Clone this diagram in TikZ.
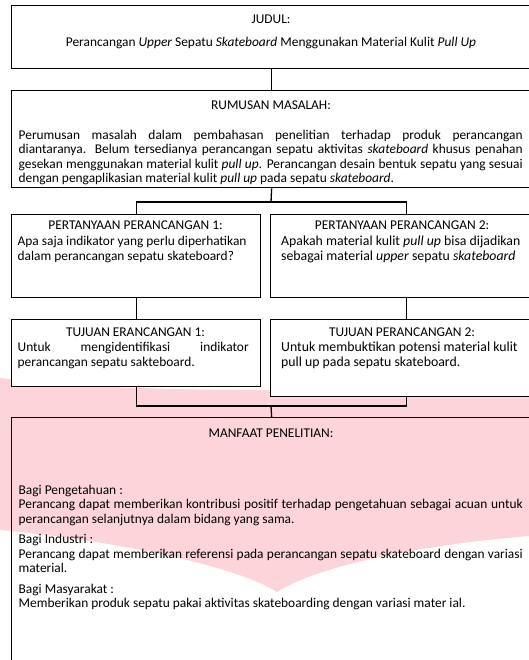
\documentclass[tikz,border=0pt]{standalone}
\usepackage{fontspec}
\setmainfont{Carlito}
\definecolor{pinkwm}{RGB}{252,212,217}

\begin{document}
\begin{tikzpicture}[x=1pt,y=-1pt,
  kotak/.style={draw, line width=1.3pt, fill=white, anchor=north west, inner sep=0pt},
  judulteks/.style={anchor=base, inner sep=0pt, font=\fontsize{13.4}{14.5}\selectfont},
  isiteks/.style={anchor=base west, inner sep=0pt, align=justify, font=\fontsize{13.4}{14.5}\selectfont},
  isikanan/.style={isiteks, font=\fontsize{13.8}{14.5}\selectfont},
  garis/.style={line width=1.3pt}]
\clip (0,0) rectangle (529,660);
\fill[white] (0,0) rectangle (529,660);
%watermark
\fill[pinkwm] (0,378) .. controls (130,395) and (400,392) .. (529,382)
  -- (529,536) .. controls (420,545) and (320,565) .. (277,592)
  .. controls (235,565) and (110,540) .. (0,530) -- cycle;
%judul
\node[kotak, minimum width=520pt, minimum height=63pt] (judul) at (11,5) {};
\node[judulteks] (tjudul) at (271,24) {JUDUL:};
\node[judulteks] (tjudulisi) at (271,46.5) {Perancangan \textit{Upper} Sepatu \textit{Skateboard} Menggunakan Material Kulit \textit{Pull Up}};
%rumusan masalah
\node[kotak, minimum width=520pt, minimum height=97pt] (rumusan) at (11,90) {};
\node[judulteks] (trumusan) at (271,109.2) {RUMUSAN MASALAH:};
\node[isiteks, text width=504pt] (irumusan) at (18.5,139.5) {%
  Perumusan masalah dalam pembahasan penelitian terhadap produk perancangan\linebreak
  diantaranya. Belum tersedianya perancangan sepatu aktivitas \textit{skateboard} khusus penahan\linebreak
  gesekan menggunakan material kulit \textit{pull up}. Perancangan desain bentuk sepatu yang sesuai\linebreak
  dengan pengaplikasian material kulit \textit{pull up} pada sepatu \textit{skateboard}.};
%pertanyaan perancangan
\node[kotak, minimum width=249pt, minimum height=83pt] (pert1) at (11,214) {};
\node[judulteks] (tpert1) at (135.5,229.2) {PERTANYAAN PERANCANGAN 1:};
\node[isiteks, text width=242pt] (ipert1) at (17.5,245.5) {%
  Apa saja indikator yang perlu diperhatikan\\
  dalam perancangan sepatu skateboard?};
\node[kotak, minimum width=272pt, minimum height=83pt] (pert2) at (270,214) {};
\node[judulteks] (tpert2) at (402,229.2) {PERTANYAAN PERANCANGAN 2:};
\node[isikanan, text width=248pt] (ipert2) at (281,245.5) {%
  Apakah material kulit \textit{pull up} bisa dijadikan\\
  sebagai material \textit{upper} sepatu \textit{skateboard}};
%tujuan perancangan
\node[kotak, minimum width=249pt, minimum height=67pt] (tuj1) at (11,319) {};
\node[judulteks] (ttuj1) at (135.5,336.2) {TUJUAN ERANCANGAN 1:};
\node[isiteks, text width=231pt] (ituj1) at (17.5,351.5) {%
  Untuk mengidentifikasi indikator\linebreak
  perancangan sepatu sakteboard.};
\node[kotak, minimum width=272pt, minimum height=77pt] (tuj2) at (270,319) {};
\node[judulteks] (ttuj2) at (402,336.2) {TUJUAN PERANCANGAN 2:};
\node[isikanan, text width=248pt] (ituj2) at (281,351.5) {%
  Untuk membuktikan potensi material kulit\\
  pull up pada sepatu skateboard.};
%manfaat penelitian
\node[kotak, fill=none, minimum width=520pt, minimum height=300pt] (manfaat) at (11,417) {};
\node[judulteks] (tmanfaat) at (271,437.2) {MANFAAT PENELITIAN:};
\node[isiteks, text width=504pt] (imanfaat) at (18.5,494) {%
  Bagi Pengetahuan :\\
  Perancang dapat memberikan kontribusi positif terhadap pengetahuan sebagai acuan untuk\linebreak
  perancangan selanjutnya dalam bidang yang sama.\\[6pt]
  Bagi Industri :\\
  Perancang dapat memberikan referensi pada perancangan sepatu skateboard dengan variasi\linebreak
  material.\\[6pt]
  Bagi Masyarakat :\\
  Memberikan produk sepatu pakai aktivitas skateboarding dengan variasi mater ial.};
%connectors
\coordinate (bagi) at (271,202);
\coordinate (gabung) at (271,406);
\draw[garis] (judul.south) -- (rumusan.north);
\draw[garis] (rumusan.south) -- (bagi);
\draw[garis] (pert1.north) |- (bagi) -| (pert2.north);
\draw[garis] (pert1.south) -- (tuj1.north);
\draw[garis] (pert2.south) -- (tuj2.north);
\draw[garis] (tuj1.south) |- (gabung) -| (tuj2.south);
\draw[garis] (gabung) -- (manfaat.north);
\end{tikzpicture}
\end{document}
